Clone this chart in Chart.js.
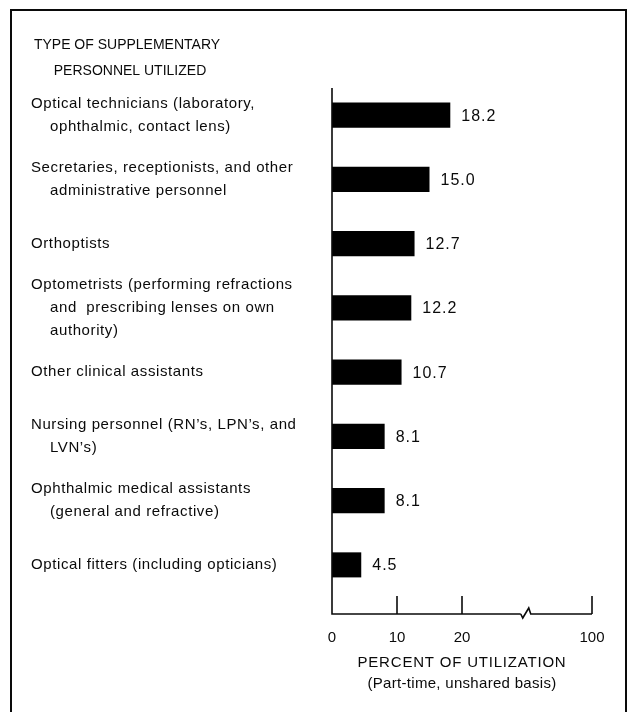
<!DOCTYPE html>
<html>
<head>
<meta charset="utf-8">
<script src="https://cdn.jsdelivr.net/npm/chart.js@4.4.1/dist/chart.umd.min.js"></script>
<style>
  html, body { margin: 0; padding: 0; background: #ffffff; }
  canvas { display: block; }
</style>
</head>
<body>
<canvas id="utilChart" width="629" height="712"></canvas>
<script>
// Personnel categories (each entry is the wrapped label lines)
const categoryLabels = [
  ["Optical technicians (laboratory,", "ophthalmic, contact lens)"],
  ["Secretaries, receptionists, and other", "administrative personnel"],
  ["Orthoptists"],
  ["Optometrists (performing refractions", "and  prescribing lenses on own", "authority)"],
  ["Other clinical assistants"],
  ["Nursing personnel (RN\u2019s, LPN\u2019s, and", "LVN\u2019s)"],
  ["Ophthalmic medical assistants", "(general and refractive)"],
  ["Optical fitters (including opticians)"]
];
const utilization = [18.2, 15.0, 12.7, 12.2, 10.7, 8.1, 8.1, 4.5];
const valueLabels = ["18.2", "15.0", "12.7", "12.2", "10.7", "8.1", "8.1", "4.5"];

// broken axis: 0-20 true scale, the last tick stands for 100
const axisTicks = [0, 10, 20, 40];
const axisTickLabels = ["0", "10", "20", "100"];
const axisBreakAt = 29.5;

const titleLines = ["TYPE OF SUPPLEMENTARY", "PERSONNEL UTILIZED"];
const axisTitleLines = ["PERCENT OF UTILIZATION", "(Part-time, unshared basis)"];

const FONT = "'Liberation Sans', Arial, Helvetica, sans-serif";
const INK = "#0a0a0a";

/**
 * Draws the frame, titles, wrapped category labels, value labels and the broken axis
 */
const decorPlugin = {
  id: "decor",
  afterDraw(chart) {
    const ctx = chart.ctx;
    const xs = chart.scales.x;
    const ys = chart.scales.y;
    const area = chart.chartArea;
    const x0 = xs.getPixelForValue(0);
    const axisY = area.bottom + 17;

    ctx.save();
    ctx.strokeStyle = INK;
    ctx.fillStyle = INK;

    // frame (bottom edge runs off the page)
    ctx.lineWidth = 2;
    ctx.strokeRect(11, 10, 615, 730);

    // heading
    ctx.textAlign = "center";
    ctx.textBaseline = "middle";
    ctx.font = "14px " + FONT;
    ctx.letterSpacing = "0px";
    ctx.fillText(titleLines[0], 127, 45);
    ctx.fillText(titleLines[1], 130, 71);

    // category labels, continuation lines indented
    ctx.textAlign = "left";
    ctx.font = "15px " + FONT;
    ctx.letterSpacing = "0.6px";
    const lineGap = 23;
    categoryLabels.forEach((lines, i) => {
      const yc = ys.getPixelForValue(i);
      const start = yc - (lines.length - 1) * lineGap / 2;
      lines.forEach((txt, j) => {
        ctx.fillText(txt, j === 0 ? 31 : 50, start + j * lineGap);
      });
    });

    // value labels next to bar ends
    ctx.font = "16px " + FONT;
    ctx.letterSpacing = "1px";
    utilization.forEach((v, i) => {
      ctx.fillText(valueLabels[i], xs.getPixelForValue(v) + 11, ys.getPixelForValue(i) + 1);
    });

    // axes
    ctx.letterSpacing = "0px";
    ctx.lineWidth = 1.6;
    ctx.beginPath();
    ctx.moveTo(x0, area.top + 5);
    ctx.lineTo(x0, axisY);
    const xb = xs.getPixelForValue(axisBreakAt);
    ctx.lineTo(xb - 3, axisY);
    ctx.stroke();

    ctx.beginPath();
    ctx.moveTo(xb - 3, axisY);
    ctx.lineTo(xb - 1, axisY + 4);
    ctx.lineTo(xb + 5, axisY - 6);
    ctx.lineTo(xb + 7, axisY);
    ctx.lineTo(xs.getPixelForValue(axisTicks[axisTicks.length - 1]), axisY);
    ctx.stroke();

    axisTicks.slice(1).forEach(v => {
      const px = xs.getPixelForValue(v);
      ctx.beginPath();
      ctx.moveTo(px, axisY - 18);
      ctx.lineTo(px, axisY);
      ctx.stroke();
    });

    // axis title
    ctx.textAlign = "center";
    ctx.font = "15px " + FONT;
    ctx.letterSpacing = "0.8px";
    const cx = (area.left + area.right) / 2;
    ctx.fillText(axisTitleLines[0], cx, 663);
    ctx.letterSpacing = "0.3px";
    ctx.fillText(axisTitleLines[1], cx, 684);
    ctx.restore();
  }
};

new Chart(document.getElementById("utilChart"), {
  type: "bar",
  data: {
    labels: categoryLabels.map(l => l.join(" ")),
    datasets: [{
      data: utilization,
      backgroundColor: "#000000",
      borderWidth: 0,
      barPercentage: 0.39,
      categoryPercentage: 1.0
    }]
  },
  options: {
    indexAxis: "y",
    responsive: false,
    animation: false,
    layout: { padding: { left: 332, right: 37, top: 83, bottom: 41 } },
    plugins: {
      legend: { display: false },
      tooltip: { enabled: false }
    },
    scales: {
      y: {
        type: "category",
        display: false,
        grid: { display: false }
      },
      x: {
        type: "linear",
        min: 0,
        max: 40,
        grid: { display: false },
        border: { display: false },
        afterBuildTicks: scale => {
          scale.ticks = axisTicks.map(v => ({ value: v }));
        },
        ticks: {
          autoSkip: false,
          maxRotation: 0,
          padding: 24,
          color: INK,
          font: { family: FONT, size: 15 },
          callback: (value, index) => axisTickLabels[index]
        }
      }
    }
  },
  plugins: [decorPlugin]
});
</script>
</body>
</html>
